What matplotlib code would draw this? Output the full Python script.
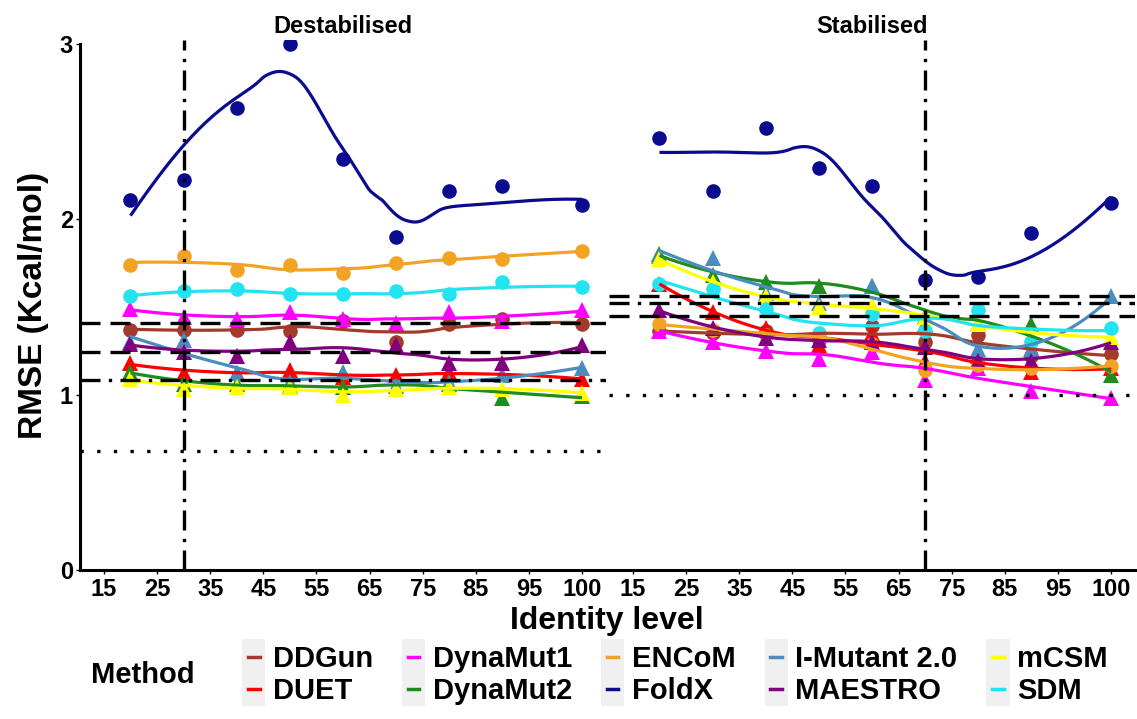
import numpy as np
import matplotlib
matplotlib.use("Agg")
import matplotlib.pyplot as plt
from matplotlib.lines import Line2D
from matplotlib.patches import Rectangle
from matplotlib.legend_handler import HandlerBase

plt.rcParams['font.family'] = ['Liberation Sans', 'DejaVu Sans']
plt.rcParams['font.weight'] = 'bold'

# identity levels and where each one sits on the x axis (100 is drawn at 105)
levels = [20, 30, 40, 50, 60, 70, 80, 90, 100]
level_pos = [20, 30, 40, 50, 60, 70, 80, 90, 105]
tick_pos = [15, 25, 35, 45, 55, 65, 75, 85, 95, 105]
tick_labels = ["15", "25", "35", "45", "55", "65", "75", "85", "95", "100"]

methods = ["DDGun", "DUET", "DynaMut1", "DynaMut2", "ENCoM",
           "FoldX", "I-Mutant 2.0", "MAESTRO", "mCSM", "SDM"]
colors = ["#A33A2C", "#FF0000", "#FF00FF", "#1E8C1E", "#F2A324",
          "#0B0B8F", "#4A8CC0", "#800080", "#FFFF00", "#22E3F0"]
markers = ["o", "^", "^", "^", "o", "o", "^", "^", "^", "o"]

# RMSE, destabilising mutations
ddgun_d    = [1.37, 1.37, 1.37, 1.36, 1.42, 1.30, 1.40, 1.43, 1.40]
duet_d     = [1.18, 1.12, 1.12, 1.14, 1.10, 1.11, 1.13, 1.11, 1.09]
dynamut1_d = [1.49, 1.44, 1.43, 1.47, 1.43, 1.41, 1.47, 1.42, 1.48]
dynamut2_d = [1.13, 1.06, 1.06, 1.05, 1.04, 1.05, 1.06, 0.98, 0.99]
encom_d    = [1.74, 1.79, 1.71, 1.74, 1.69, 1.75, 1.78, 1.77, 1.82]
foldx_d    = [2.11, 2.22, 2.63, 3.00, 2.34, 1.90, 2.16, 2.19, 2.08]
imutant_d  = [1.30, 1.31, 1.12, 1.07, 1.13, 1.05, 1.07, 1.11, 1.15]
maestro_d  = [1.29, 1.24, 1.22, 1.30, 1.22, 1.28, 1.18, 1.18, 1.28]
mcsm_d     = [1.09, 1.03, 1.04, 1.04, 1.00, 1.03, 1.04, 1.03, 1.01]
sdm_d      = [1.56, 1.59, 1.60, 1.57, 1.57, 1.59, 1.57, 1.64, 1.61]

# RMSE, stabilising mutations
ddgun_s    = [1.36, 1.35, 1.36, 1.31, 1.39, 1.30, 1.34, 1.22, 1.23]
duet_s     = [1.63, 1.47, 1.38, 1.28, 1.35, 1.19, 1.22, 1.13, 1.15]
dynamut1_s = [1.36, 1.30, 1.25, 1.20, 1.24, 1.08, 1.15, 1.02, 0.98]
dynamut2_s = [1.80, 1.68, 1.64, 1.62, 1.62, 1.45, 1.40, 1.40, 1.11]
encom_s    = [1.40, 1.37, 1.34, 1.32, 1.29, 1.14, 1.17, 1.15, 1.16]
foldx_s    = [2.46, 2.16, 2.52, 2.29, 2.19, 1.65, 1.67, 1.92, 2.09]
imutant_s  = [1.79, 1.78, 1.58, 1.52, 1.62, 1.40, 1.26, 1.26, 1.56]
maestro_s  = [1.48, 1.38, 1.32, 1.31, 1.30, 1.27, 1.19, 1.19, 1.30]
mcsm_s     = [1.77, 1.64, 1.56, 1.50, 1.51, 1.44, 1.40, 1.34, 1.33]
sdm_s      = [1.63, 1.60, 1.49, 1.35, 1.46, 1.36, 1.48, 1.30, 1.38]

# reference lines per panel
vline_d = 30
vline_s = 70
dashed_d = [1.41, 1.24]
dashdot_d = [1.08]
dotted_d = [0.68]
dashed_s = [1.56, 1.45]
dashdot_s = [1.52]
dotted_s = [1.00]

destab = [ddgun_d, duet_d, dynamut1_d, dynamut2_d, encom_d,
          foldx_d, imutant_d, maestro_d, mcsm_d, sdm_d]
stab = [ddgun_s, duet_s, dynamut1_s, dynamut2_s, encom_s,
        foldx_s, imutant_s, maestro_s, mcsm_s, sdm_s]


def loess(x, y, xnew, span=0.75):
    # local quadratic fit with tricube weights (like R loess defaults)
    x = np.asarray(x, float)
    y = np.asarray(y, float)
    q = int(np.floor(len(x) * span))
    out = []
    for x0 in xnew:
        d = np.abs(x - x0)
        ds = np.sort(d)
        h = (ds[q - 1] + ds[min(q, len(x) - 1)]) / 2
        w = np.clip(1 - (d / h) ** 3, 0, None) ** 3
        X = np.vstack([np.ones_like(x), x - x0, (x - x0) ** 2]).T
        W = np.diag(w)
        beta = np.linalg.lstsq(X.T @ W @ X, X.T @ W @ y, rcond=None)[0]
        out.append(beta[0])
    return np.array(out)


fig = plt.figure(figsize=(11.37, 7.19), dpi=100)
ax1 = fig.add_axes([80 / 1137, 149 / 719, 526 / 1137, 530 / 719])
ax2 = fig.add_axes([609 / 1137, 149 / 719, 526 / 1137, 530 / 719])

xs = np.linspace(level_pos[0], level_pos[-1], 200)
lw_ref = 2.4

for ax, data, title, vx, dsh, dd, dot in [
        (ax1, destab, "Destabilised", vline_d, dashed_d, dashdot_d, dotted_d),
        (ax2, stab, "Stabilised", vline_s, dashed_s, dashdot_s, dotted_s)]:
    for vals, c, m in zip(data, colors, markers):
        ax.plot(level_pos, vals, linestyle="none", marker=m, color=c,
                markersize=12 if m == "^" else 10.5, markeredgewidth=0, zorder=2)
    for vals, c in zip(data, colors):
        ax.plot(xs, loess(level_pos, vals, xs), color=c, lw=2.3, zorder=3,
                solid_capstyle="butt")
    for yv in dsh:
        ax.axhline(yv, color="black", lw=lw_ref, dashes=(6, 3), zorder=4)
    for yv in dd:
        ax.axhline(yv, color="black", lw=lw_ref, dashes=(6, 2.5, 1, 2.5), zorder=4)
    for yv in dot:
        ax.axhline(yv, color="black", lw=lw_ref, dashes=(1, 4), zorder=4)
    ax.axvline(vx, color="black", lw=lw_ref, dashes=(6, 2.5, 1, 2.5), zorder=4)

    ax.set_xlim(10.5, 109.5)
    ax.set_ylim(0, 3.02)
    ax.set_xticks(tick_pos)
    ax.set_xticklabels(tick_labels)
    ax.tick_params(axis="x", labelsize=17, length=3, width=1, pad=3)
    for s in ["top", "right"]:
        ax.spines[s].set_visible(False)
    ax.spines["bottom"].set_linewidth(2.2)
    ax.spines["left"].set_linewidth(2.2)
    ax.spines["left"].set_bounds(0, 3)
    ax.set_title(title, fontsize=17, fontweight="bold", pad=5)

ax1.set_yticks([0, 1, 2, 3])
ax1.tick_params(axis="y", labelsize=17, length=3, width=1, pad=2)
ax1.set_ylabel("RMSE (Kcal/mol)", fontsize=24, fontweight="bold", labelpad=8)
ax2.spines["left"].set_visible(False)
ax2.set_yticks([])

fig.text(607 / 1137, 1 - 621 / 719, "Identity level", ha="center", va="center",
         fontsize=23, fontweight="bold")


class KeyHandler(HandlerBase):
    def create_artists(self, legend, orig_handle, xdescent, ydescent,
                       width, height, fontsize, trans):
        bg = Rectangle((-xdescent, -ydescent - 0.35 * height), width, 1.7 * height,
                       facecolor="#F0F0F0", edgecolor="none", transform=trans)
        ln = Line2D([-xdescent + 0.25 * width, -xdescent + 0.75 * width],
                    [height / 2 - ydescent] * 2, color=orig_handle.get_color(),
                    lw=2.5, transform=trans)
        return [bg, ln]


handles = [Line2D([], [], color=c) for c in colors]
fig.text(143 / 1137, 1 - 675 / 719, "Method", ha="center", va="center",
         fontsize=21, fontweight="bold")
leg = fig.legend(handles, methods, ncol=5, loc="center left",
                 bbox_to_anchor=(242 / 1137, 1 - 675 / 719), frameon=False,
                 fontsize=21, borderpad=0, borderaxespad=0,
                 handler_map={Line2D: KeyHandler()}, handlelength=0.8,
                 handletextpad=0.25, columnspacing=1.0, labelspacing=0.15)

fig.savefig("out.png", dpi=100)
